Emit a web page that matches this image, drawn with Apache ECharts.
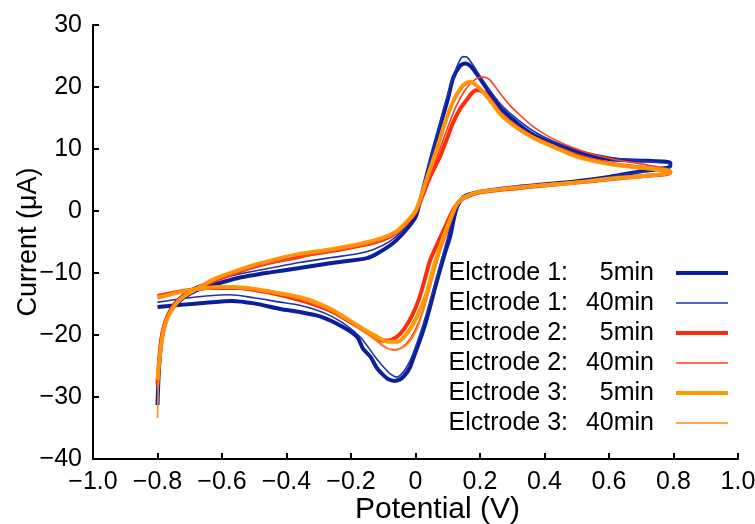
<!DOCTYPE html>
<html>
<head>
<meta charset="utf-8">
<script src="https://cdn.jsdelivr.net/npm/echarts@6/dist/echarts.min.js"></script>
<style>
  html, body { margin: 0; padding: 0; background: #fff; }
  #chart { width: 755px; height: 524px; }
</style>
</head>
<body>
<div id="chart"></div>
<script>
// legend labels (left part / right part)
const legendLeft = ['Elctrode 1:', 'Elctrode 1:', 'Elctrode 2:', 'Elctrode 2:', 'Elctrode 3:', 'Elctrode 3:'];
const legendRight = ['5min', '40min', '5min', '40min', '5min', '40min'];

// each curve: forward scan -0.8 -> 0.8, then reverse 0.8 -> -0.8  [V, uA]
const e1_5min = [
	[-0.8,-31.3],[-0.797,-27],[-0.792,-23],[-0.785,-20],[-0.77,-17.2],[-0.75,-15.5],[-0.72,-14],[-0.68,-12.8],
	[-0.62,-11.8],[-0.55,-10.8],[-0.45,-9.9],[-0.36,-9.2],[-0.26,-8.4],[-0.15,-7.6],[-0.12,-6.9],[-0.07,-5.2],
	[-0.03,-3.1],[0,-1],[0.015,1.8],[0.035,5.8],[0.055,9.8],[0.075,13.5],[0.1,18],[0.117,21.5],[0.138,23.4],
	[0.153,23.8],[0.168,23.5],[0.18,22.8],[0.21,20.6],[0.26,16.8],[0.315,14.2],[0.365,12.3],[0.42,11],
	[0.51,9.4],[0.61,8.3],[0.72,8.1],[0.79,7.8],
	[0.79,7.2],[0.7,6.4],[0.6,5.5],[0.5,4.8],[0.4,4.3],[0.3,3.8],[0.2,3.1],[0.15,2.3],[0.13,0.8],[0.12,-1],
	[0.107,-4.2],[0.09,-7],[0.076,-9.5],[0.06,-12.5],[0.045,-15.5],[0.03,-18.3],[0.014,-20.8],[-0.005,-23.5],
	[-0.017,-25.2],[-0.035,-26.6],[-0.05,-27.2],[-0.065,-27.4],[-0.088,-27],[-0.105,-26.2],[-0.12,-25.3],
	[-0.14,-23.5],[-0.163,-22.2],[-0.181,-20.3],[-0.225,-18.7],[-0.296,-17],[-0.358,-16.3],[-0.42,-15.8],
	[-0.5,-14.9],[-0.57,-14.5],[-0.65,-14.8],[-0.72,-15.1],[-0.8,-15.5]
];
const e1_40min = [
	[-0.8,-29],[-0.796,-25],[-0.79,-21.5],[-0.78,-18.5],[-0.765,-16.2],[-0.745,-14.6],[-0.72,-13.4],[-0.68,-12.2],
	[-0.62,-11.2],[-0.55,-10.2],[-0.45,-9.2],[-0.36,-8.3],[-0.26,-7.5],[-0.18,-6.9],[-0.13,-6.2],[-0.08,-4.9],
	[-0.04,-3.1],[-0.01,-1],[0.01,1.5],[0.03,5],[0.05,9],[0.07,13],[0.09,17],[0.11,20.5],[0.13,23.5],
	[0.148,24.9],[0.16,24.8],[0.175,23.8],[0.19,22.6],[0.21,21],[0.24,18.8],[0.27,16.9],[0.315,14.8],
	[0.365,12.9],[0.42,11.4],[0.51,9.7],[0.61,8.6],[0.72,8],[0.79,7.6],
	[0.79,7],[0.7,6.3],[0.6,5.5],[0.5,4.8],[0.4,4.3],[0.3,3.8],[0.2,3.1],[0.15,2.2],[0.128,0.8],[0.115,-1],
	[0.1,-4.2],[0.085,-7],[0.07,-9.8],[0.054,-12.8],[0.038,-15.8],[0.022,-18.6],[0.005,-21.2],[-0.012,-23.6],
	[-0.03,-25.4],[-0.045,-26.4],[-0.058,-26.8],[-0.075,-26.4],[-0.095,-25.4],[-0.115,-24.2],[-0.135,-22.8],
	[-0.17,-20.4],[-0.21,-18.6],[-0.26,-17],[-0.305,-16],[-0.36,-15.2],[-0.42,-14.7],[-0.5,-14],[-0.575,-13.5],
	[-0.65,-13.7],[-0.72,-14.1],[-0.8,-14.7]
];
const e2_5min = [
	[-0.8,-28],[-0.796,-24.8],[-0.79,-21.5],[-0.782,-19],[-0.767,-16.7],[-0.745,-14.9],[-0.715,-13.6],[-0.675,-12.5],
	[-0.63,-11.4],[-0.58,-10.4],[-0.52,-9.3],[-0.45,-8.3],[-0.37,-7.5],[-0.33,-7.0],[-0.265,-6.5],[-0.163,-5.5],
	[-0.1,-4.6],[-0.057,-3.4],[-0.025,-1.8],[0,-0.2],[0.02,2.2],[0.045,5.5],[0.076,8.8],[0.1,12],[0.116,14.2],
	[0.14,16.6],[0.16,18],[0.178,19.2],[0.194,19.5],[0.21,19.2],[0.222,18.6],[0.245,17],[0.265,15.6],[0.315,13.5],
	[0.365,11.9],[0.42,10.6],[0.51,8.8],[0.61,7.6],[0.72,6.9],[0.79,6.4],
	[0.79,6.1],[0.7,5.6],[0.6,5.1],[0.5,4.6],[0.4,4.1],[0.3,3.6],[0.2,3.0],[0.15,2.1],[0.13,1.2],[0.11,-0.5],
	[0.09,-2.8],[0.065,-5.6],[0.045,-8.0],[0.03,-10.8],[0.012,-14],[-0.01,-16.8],[-0.035,-19],[-0.06,-20.4],
	[-0.085,-20.9],[-0.105,-20.9],[-0.13,-20.2],[-0.18,-18.6],[-0.26,-16.2],[-0.35,-14.5],[-0.45,-13.2],
	[-0.55,-12.4],[-0.65,-12.4],[-0.72,-12.9],[-0.8,-13.7]
];
const e2_40min = [
	[-0.8,-28.5],[-0.796,-25],[-0.79,-21.8],[-0.782,-19.2],[-0.767,-16.8],[-0.745,-15],[-0.715,-13.7],[-0.675,-12.5],
	[-0.63,-11.4],[-0.58,-10.4],[-0.52,-9.4],[-0.45,-8.4],[-0.37,-7.6],[-0.265,-6.6],[-0.163,-5.6],[-0.1,-4.6],
	[-0.057,-3.4],[-0.025,-1.8],[0,0],[0.02,2.5],[0.045,5.8],[0.07,9.2],[0.1,13.5],[0.125,16.8],[0.15,19.2],
	[0.175,20.8],[0.195,21.5],[0.21,21.6],[0.23,21.2],[0.262,19],[0.29,17.2],[0.315,15.9],[0.365,13.6],
	[0.42,11.8],[0.51,9.8],[0.61,8.4],[0.72,7.4],[0.79,6.6],
	[0.79,6.1],[0.7,5.6],[0.6,5.1],[0.5,4.6],[0.4,4.1],[0.3,3.6],[0.2,3.0],[0.15,2.1],[0.13,1.0],[0.115,-1],
	[0.1,-3.2],[0.08,-6],[0.062,-9],[0.045,-12],[0.028,-15.2],[0.008,-18.2],[-0.015,-20.5],[-0.04,-21.9],
	[-0.065,-22.4],[-0.09,-22.1],[-0.12,-21],[-0.17,-19],[-0.25,-16.5],[-0.33,-14.8],[-0.42,-13.5],[-0.52,-12.7],
	[-0.62,-12.5],[-0.7,-12.9],[-0.8,-13.6]
];
const e3_5min = [
	[-0.8,-27.2],[-0.795,-24.5],[-0.788,-21.5],[-0.78,-19],[-0.765,-16.8],[-0.74,-14.8],[-0.71,-13.5],[-0.67,-12.3],
	[-0.63,-11.1],[-0.58,-10.1],[-0.52,-9.0],[-0.45,-8.0],[-0.367,-7.0],[-0.265,-6.2],[-0.163,-5.2],[-0.1,-4.3],
	[-0.057,-3.2],[-0.025,-1.6],[0,0],[0.02,2.8],[0.04,6.0],[0.065,9.8],[0.09,14],[0.115,17.5],[0.14,19.8],
	[0.158,20.7],[0.172,20.8],[0.19,20.2],[0.21,19.2],[0.24,17.2],[0.265,15.5],[0.315,13.4],[0.365,11.8],
	[0.42,10.5],[0.51,8.6],[0.61,7.5],[0.72,6.9],[0.79,6.4],
	[0.79,6.2],[0.7,5.6],[0.6,5.2],[0.5,4.6],[0.4,4.2],[0.3,3.7],[0.2,3.1],[0.15,2.2],[0.13,1.2],[0.12,0.2],
	[0.098,-2.6],[0.076,-5.8],[0.054,-9.5],[0.035,-13.2],[0.005,-17],[-0.026,-19.7],[-0.057,-21.1],[-0.085,-21.1],
	[-0.119,-20.3],[-0.172,-18.7],[-0.256,-16],[-0.305,-14.8],[-0.358,-13.9],[-0.45,-13],[-0.52,-12.4],
	[-0.6,-12.2],[-0.68,-12.6],[-0.74,-13.2],[-0.8,-14]
];
const e3_40min = [
	[-0.8,-33.4],[-0.798,-29],[-0.794,-25],[-0.788,-21.8],[-0.78,-19.2],[-0.765,-16.8],[-0.74,-14.8],[-0.71,-13.5],
	[-0.67,-12.3],[-0.63,-11.2],[-0.58,-10.2],[-0.52,-9.1],[-0.45,-8.1],[-0.367,-7.1],[-0.265,-6.3],[-0.163,-5.3],
	[-0.1,-4.4],[-0.057,-3.3],[-0.025,-1.7],[0,0],[0.02,2.6],[0.04,5.8],[0.065,9.5],[0.09,13.6],[0.115,17.2],
	[0.14,19.5],[0.16,20.5],[0.175,20.6],[0.19,20.1],[0.21,19.2],[0.24,17.3],[0.265,15.7],[0.315,13.5],
	[0.365,11.9],[0.42,10.6],[0.51,8.7],[0.61,7.5],[0.72,6.9],[0.79,6.4],
	[0.79,6.1],[0.7,5.6],[0.6,5.2],[0.5,4.6],[0.4,4.2],[0.3,3.7],[0.2,3.1],[0.15,2.2],[0.13,1.1],[0.115,-0.8],
	[0.098,-3.2],[0.078,-6.2],[0.06,-9.5],[0.043,-12.8],[0.025,-16],[0.005,-19],[-0.02,-21.2],[-0.045,-22.2],
	[-0.068,-22.5],[-0.09,-22],[-0.12,-20.9],[-0.17,-19],[-0.25,-16.4],[-0.31,-15],[-0.36,-14.1],[-0.45,-13.1],
	[-0.52,-12.5],[-0.6,-12.3],[-0.68,-12.7],[-0.74,-13.3],[-0.8,-14.1]
];

const curves = [e1_5min, e1_40min, e2_5min, e2_40min, e3_5min, e3_40min];
const colors = ['#0b1f9c', '#1a33aa', '#ff2c0a', '#ff3f22', '#ff9a00', '#ff8c1a'];
const widths = [4, 1.6, 4, 1.6, 4, 1.6];

const font = 'Liberation Sans, Arial, sans-serif';
const minus = s => String(s).replace('-', '\u2212');

const names = legendLeft.map((l, i) => l + ' ' + legendRight[i]);

const series = curves.map((d, i) => ({
	name: names[i],
	type: 'line',
	data: d,
	symbol: 'none',
	smooth: 0.25,
	lineStyle: { color: colors[i], width: widths[i] },
	itemStyle: { color: colors[i] },
	z: 2 + i
}));

const chart = echarts.init(document.getElementById('chart'));
chart.setOption({
	animation: false,
	backgroundColor: '#fff',
	grid: { left: 93, top: 25, right: 17, bottom: 65, containLabel: false, outerBoundsMode: 'none' },
	xAxis: {
		type: 'value', min: -1, max: 1, interval: 0.2,
		name: 'Potential (V)', nameLocation: 'middle', nameGap: 36, nameMoveOverlap: false,
		nameTextStyle: { fontFamily: font, fontSize: 30, color: '#000', padding: [0, 0, 0, 44] },
		axisLine: { onZero: false, lineStyle: { color: '#000', width: 2 } },
		axisTick: { inside: true, length: 6, lineStyle: { color: '#000', width: 2 } },
		axisLabel: {
			fontFamily: font, fontSize: 25, color: '#000', margin: 11,
			formatter: v => Math.abs(v) < 1e-9 ? '0' : minus(v.toFixed(1))
		},
		splitLine: { show: false }
	},
	yAxis: {
		type: 'value', min: -40, max: 30, interval: 10,
		name: 'Current (\u03bcA)', nameLocation: 'middle', nameGap: 51, nameMoveOverlap: false,
		nameTextStyle: { fontFamily: font, fontSize: 27, color: '#000' },
		axisLine: { onZero: false, lineStyle: { color: '#000', width: 2 } },
		axisTick: { inside: true, length: 6, lineStyle: { color: '#000', width: 2 } },
		axisLabel: { fontFamily: font, fontSize: 25, color: '#000', margin: 11, formatter: v => minus(v) },
		splitLine: { show: false }
	},
	legend: {
		orient: 'vertical',
		left: 428, top: 253,
		align: 'right',
		itemWidth: 52, itemHeight: 14, itemGap: 0,
		selectedMode: false,
		data: names.map((n, i) => ({ name: n, lineStyle: { width: widths[i] }, itemStyle: { opacity: 0 } })),
		formatter: n => {
			const i = names.indexOf(n);
			return '{a|' + legendLeft[i] + '}{b|' + legendRight[i] + '}';
		},
		textStyle: {
			fontFamily: font, fontSize: 25, color: '#000', lineHeight: 30,
			rich: {
				a: { fontFamily: font, fontSize: 25, width: 135, lineHeight: 30 },
				b: { fontFamily: font, fontSize: 25, width: 86, align: 'right', lineHeight: 30, padding: [0, 17, 0, 0] }
			}
		}
	},
	series: series
});
</script>
</body>
</html>
